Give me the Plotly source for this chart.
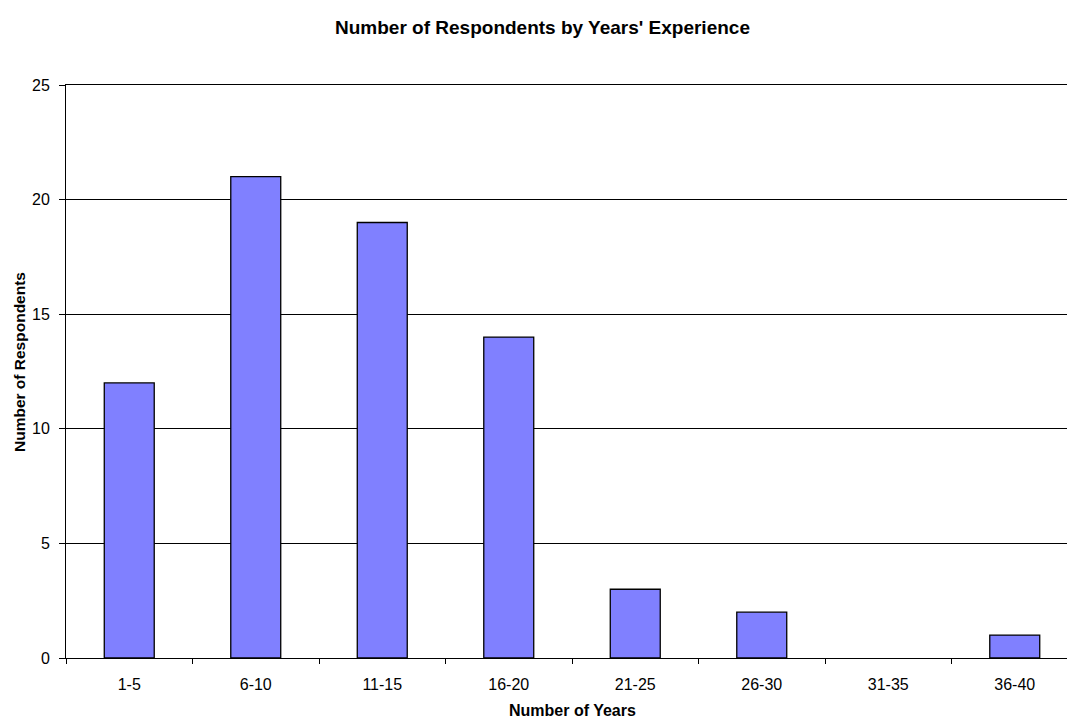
import plotly.graph_objects as go

# Survey data: respondents grouped by years of experience
year_bands = ["1-5", "6-10", "11-15", "16-20", "21-25", "26-30", "31-35", "36-40"]
respondents = [12, 21, 19, 14, 3, 2, 0, 1]
y_ticks = [0, 5, 10, 15, 20, 25]

W, H = 1067, 718
L, T, B = 66, 85, 60
FONT = "Liberation Sans, Arial, sans-serif"

# empty categories get no outline so nothing is drawn for them
outline_widths = [1.3 if v > 0 else 0 for v in respondents]

fig = go.Figure(
    go.Bar(
        x=year_bands,
        y=respondents,
        width=0.395,
        marker=dict(color="#8080FF", line=dict(color="black", width=outline_widths)),
        hoverinfo="x+y",
    )
)

fig.update_layout(
    width=W,
    height=H,
    margin=dict(l=L, r=0, t=T, b=B, autoexpand=False),
    paper_bgcolor="white",
    plot_bgcolor="white",
    font=dict(family=FONT, size=16, color="black"),
    showlegend=False,
    bargap=0.6,
    title=dict(
        text="<b>Number of Respondents by Years' Experience</b>",
        xref="container",
        yref="container",
        x=542.5 / W,
        y=1 - 27 / H,
        xanchor="center",
        yanchor="middle",
        font=dict(family=FONT, size=19, color="black"),
    ),
)

fig.update_xaxes(
    type="category",
    range=[-0.5, 7.413],
    showline=True,
    mirror=True,
    linecolor="black",
    linewidth=1,
    showgrid=False,
    ticks="outside",
    tickson="boundaries",
    ticklen=5,
    tickcolor="black",
    tickwidth=1,
    tickfont=dict(family=FONT, size=16, color="black"),
    ticklabelstandoff=12,
    fixedrange=True,
)

fig.update_yaxes(
    range=[0, 25],
    tickvals=y_ticks,
    showline=True,
    linecolor="black",
    linewidth=1,
    showgrid=True,
    gridcolor="black",
    gridwidth=1,
    zeroline=False,
    ticks="outside",
    ticklen=6,
    tickcolor="black",
    tickwidth=1,
    tickfont=dict(family=FONT, size=16, color="black"),
    ticklabelstandoff=6,
    fixedrange=True,
)

# Axis titles placed as annotations
fig.add_annotation(
    text="<b>Number of Years</b>",
    xref="paper", yref="paper",
    x=(572 - L) / (W - L), y=-(710 - (H - B)) / (H - B - T),
    xanchor="center", yanchor="middle",
    showarrow=False,
    font=dict(family=FONT, size=16, color="black"),
)
fig.add_annotation(
    text="<b>Number of Respondents</b>",
    xref="paper", yref="paper",
    x=-(L - 19) / (W - L), y=1 - (362 - T) / (H - B - T),
    xanchor="center", yanchor="middle",
    textangle=-90,
    showarrow=False,
    font=dict(family=FONT, size=15.5, color="black"),
)

fig.write_html("out.html")
